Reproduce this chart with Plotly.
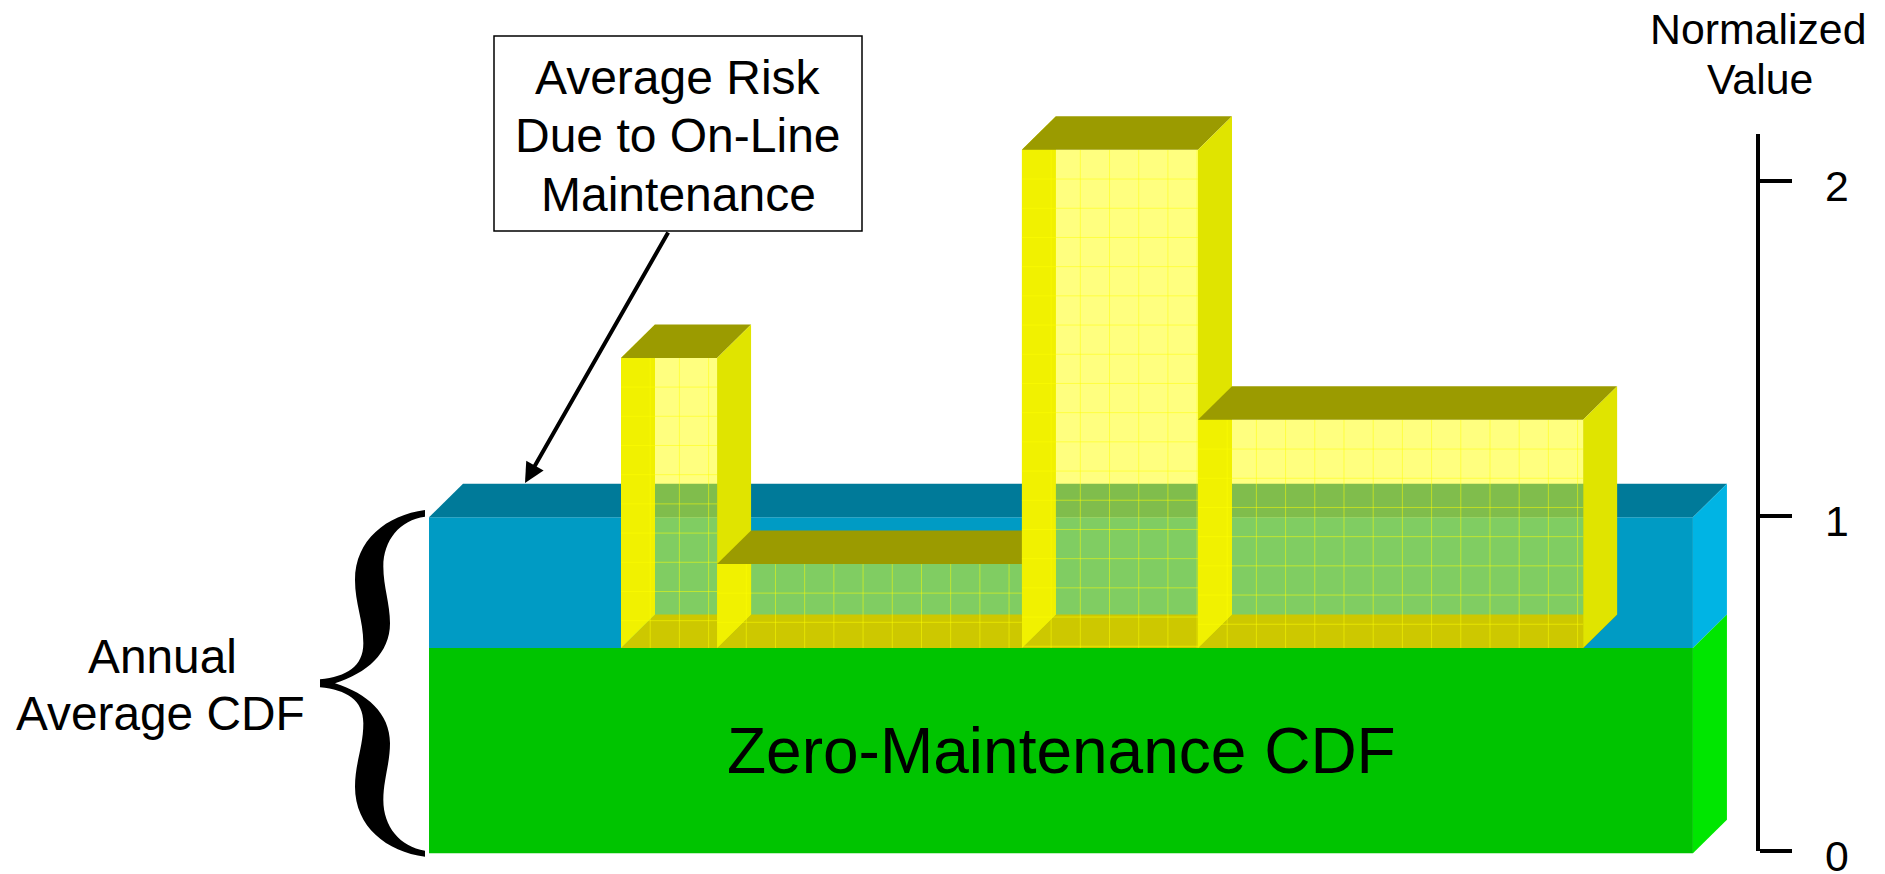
import plotly.graph_objects as go

# Normalized risk levels (0 = nothing, 1 = annual average CDF)
block_base = -0.007
zero_maint_cdf = 0.606
annual_avg_cdf = 0.996
# Maintenance-state configurations along the year, in grid cells
segment_edges = [0.0, 3.29, 13.73, 19.76, 32.95]
segment_risk = [1.472, 0.857, 2.093, 1.287]
block_edges = [-6.575, 36.71]
axis_ticks = [0, 1, 2]
axis_tick_labels = ["0", "1", "2"]
axis_title_lines = ["Normalized", "Value"]
callout_lines = ["Average Risk", "Due to On-Line", "Maintenance"]
brace_lines = ["Annual", "Average CDF"]
block_label = "Zero-Maintenance CDF"

W, H = 1885, 874
CELL_PX, UNIT_PX = 29.2, 335.0
X0_PX, Y0_PX = 621.0, 851.0
DU, DV = 34.0 / CELL_PX, 33.5 / UNIT_PX   # oblique depth of the 3-D boxes
GRID_DV = CELL_PX / UNIT_PX


def px(x):
    return x / W


def py(y):
    return 1 - y / H


fig = go.Figure()


def poly(xs, ys, color):
    fig.add_trace(go.Scatter(x=xs, y=ys, mode="lines", fill="toself", fillcolor=color,
                             line=dict(width=0), hoverinfo="skip", showlegend=False))


def front(u0, u1, v0, v1, color):
    poly([u0, u1, u1, u0], [v0, v0, v1, v1], color)


def top(u0, u1, v, color):
    poly([u0, u1, u1 + DU, u0 + DU], [v, v, v + DV, v + DV], color)


def right(u, v0, v1, color):
    poly([u, u + DU, u + DU, u], [v0, v0 + DV, v1 + DV, v1], color)


def left_wall(u, v0, v1, color):
    right(u, v0, v1, color)


# Base blocks
u_a, u_b = block_edges
front(u_a, u_b, annual_avg_cdf, zero_maint_cdf, "#009BC4")
top(u_a, u_b, annual_avg_cdf, "#007A99")
right(u_b, zero_maint_cdf, annual_avg_cdf, "#00B4E4")
front(u_a, u_b, block_base, zero_maint_cdf, "#00C400")
right(u_b, block_base, zero_maint_cdf, "#00E600")

# Translucent risk boxes sitting on the zero-maintenance block
for i, risk in enumerate(segment_risk):
    u0, u1 = segment_edges[i], segment_edges[i + 1]
    base = zero_maint_cdf
    top(u0, u1, base, "#9A9000")                     # floor
    left_wall(u0, base, risk, "#E2E200")
    front(u0, u1, base, risk, "rgba(255,255,0,0.5)")
    gx, gy = [], []
    k = 1
    while u0 + k < u1:
        gx += [u0 + k, u0 + k, None]
        gy += [base, risk, None]
        k += 1
    k = 1
    while risk - k * GRID_DV > base:
        gx += [u0, u1, None]
        gy += [risk - k * GRID_DV] * 2 + [None]
        k += 1
    fig.add_trace(go.Scatter(x=gx, y=gy, mode="lines", line=dict(width=1, color="rgba(255,255,0,0.5)"),
                             hoverinfo="skip", showlegend=False))
    top(u0, u1, risk, "#9B9B00")
    right(u1, base, risk, "#E0E400")

# Carrier trace for the normalized value axis
fig.add_trace(go.Scatter(x=[u_b] * len(axis_ticks), y=axis_ticks, yaxis="y2", mode="lines",
                         line=dict(width=0), hoverinfo="skip", showlegend=False, opacity=0))

FONT = "Liberation Sans"


def label(text, x, y, size):
    fig.add_annotation(text=text, x=px(x), y=py(y), xref="paper", yref="paper", showarrow=False,
                       xanchor="center", yanchor="middle", font=dict(family=FONT, size=size, color="black"))


for t, xx, yy in zip(axis_title_lines, [1757.5, 1760], [29, 79]):
    label(t, xx, yy, 42.8)
for t, yy in zip(callout_lines, [77, 136, 194]):
    label(t, 678, yy, 48)
for t, xx, yy in zip(brace_lines, [162, 160.5], [656, 713]):
    label(t, xx, yy, 47.8)
label(block_label, 1061, 751, 64)

for v, t in zip(axis_ticks, axis_tick_labels):
    fig.add_annotation(text=t, x=px(1837), xref="paper", y=v, yref="y2", yshift=-5, showarrow=False,
                       xanchor="center", yanchor="middle", font=dict(family=FONT, size=42.8, color="black"))

# Leader from the callout to the top of the annual average block
tip = (525, 483)
tail = (669, 231)
fig.add_annotation(x=px(tip[0]), y=py(tip[1]), xref="paper", yref="paper", text="", showarrow=True,
                   ax=tail[0] - tip[0], ay=tail[1] - tip[1], arrowhead=2, arrowsize=1, arrowwidth=4,
                   arrowcolor="black")


# Curly brace outline, traced in page pixels
def bx(x):
    return px(300 + x / 3)


def by(y):
    return py(480 + y / 3)


brace = [
    ("M", [(375, 90)]),
    ("C", [(260, 105), (165, 180), (165, 300)]),
    ("C", [(165, 370), (190, 420), (190, 490)]),
    ("C", [(190, 560), (140, 590), (60, 598)]),
    ("L", [(60, 622)]),
    ("C", [(140, 630), (190, 660), (190, 730)]),
    ("C", [(190, 800), (165, 850), (165, 920)]),
    ("C", [(165, 1040), (260, 1115), (375, 1130)]),
    ("L", [(375, 1112)]),
    ("C", [(300, 1100), (250, 1040), (250, 960)]),
    ("C", [(250, 900), (270, 850), (270, 790)]),
    ("C", [(270, 700), (200, 640), (105, 610)]),
    ("C", [(200, 580), (270, 520), (270, 430)]),
    ("C", [(270, 370), (250, 320), (250, 260)]),
    ("C", [(250, 180), (300, 120), (375, 110)]),
]
path = " ".join(c + " " + " ".join(f"{bx(a):.5f},{by(b):.5f}" for a, b in pts) for c, pts in brace) + " Z"
fig.add_shape(type="path", path=path, xref="paper", yref="paper", fillcolor="black", line=dict(width=0))

# Callout box
fig.add_shape(type="rect", xref="paper", yref="paper", x0=px(494), x1=px(862), y0=py(231), y1=py(36),
              fillcolor="white", line=dict(color="black", width=1.5), layer="above")

fig.update_layout(
    width=W, height=H, autosize=False, margin=dict(l=0, r=0, t=0, b=0),
    plot_bgcolor="rgba(0,0,0,0)", paper_bgcolor="white", showlegend=False,
    xaxis=dict(visible=False, range=[-X0_PX / CELL_PX, (W - X0_PX) / CELL_PX], domain=[0, 1]),
    yaxis=dict(visible=False, range=[(Y0_PX - H) / UNIT_PX, Y0_PX / UNIT_PX], domain=[0, 1]),
    yaxis2=dict(
        anchor="free", position=px(1758), side="right",
        domain=[py(851), py(134)], range=[0, (851 - 134) / UNIT_PX],
        tickmode="array", tickvals=axis_ticks, ticktext=["", "", ""],
        ticks="outside", ticklen=32, tickwidth=4, tickcolor="black",
        showline=True, linewidth=4, linecolor="black", showgrid=False, zeroline=False,
    ),
)
fig.write_html("out.html")
